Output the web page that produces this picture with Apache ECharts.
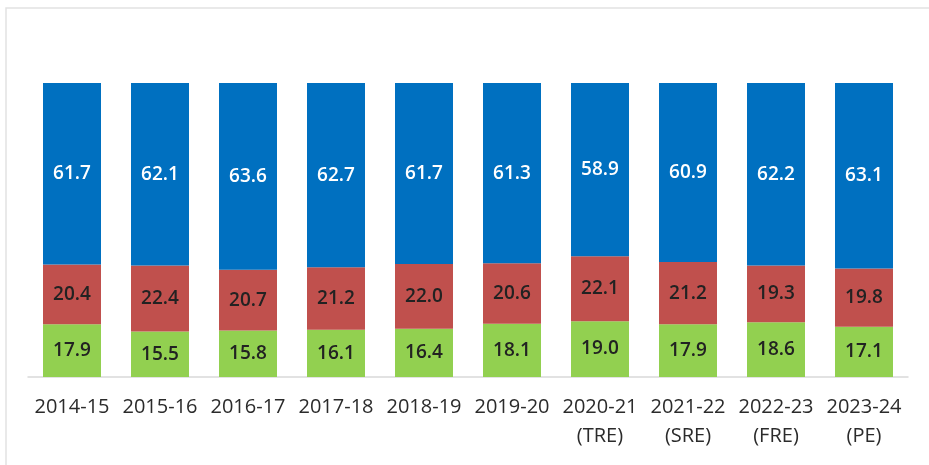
<!DOCTYPE html>
<html>
<head>
<meta charset="utf-8">
<script src="https://cdn.jsdelivr.net/npm/echarts@6/dist/echarts.min.js"></script>
<style>
  html, body { margin: 0; padding: 0; background: #fff; }
  #chart { width: 929px; height: 465px; }
</style>
</head>
<body>
<div id="chart"></div>
<script>
const years = ['2014-15', '2015-16', '2016-17', '2017-18', '2018-19', '2019-20',
  '2020-21\n(TRE)', '2021-22\n(SRE)', '2022-23\n(FRE)', '2023-24\n(PE)'];
const greenVals = [17.9, 15.5, 15.8, 16.1, 16.4, 18.1, 19.0, 17.9, 18.6, 17.1];
const redVals = [20.4, 22.4, 20.7, 21.2, 22.0, 20.6, 22.1, 21.2, 19.3, 19.8];
const blueVals = [61.7, 62.1, 63.6, 62.7, 61.7, 61.3, 58.9, 60.9, 62.2, 63.1];

const chart = echarts.init(document.getElementById('chart'));

const fontFam = '"Open Sans", "Noto Sans", sans-serif';

function makeSeries(name, data, color, labelColor) {
  return {
    name: name,
    type: 'bar',
    stack: 'total',
    barWidth: 58,
    data: data,
    itemStyle: { color: color },
    label: {
      show: true,
      position: 'inside',
      color: labelColor,
      fontWeight: 600,
      fontSize: 19,
      fontFamily: fontFam,
      formatter: p => p.value.toFixed(1)
    }
  };
}

chart.setOption({
  animation: false,
  graphic: [{
    type: 'rect',
    shape: { x: 6, y: 8, width: 960, height: 500 },
    style: { fill: 'none', stroke: '#e2e2e2', lineWidth: 1.5 },
    silent: true
  }],
  grid: { left: 28, top: 83, width: 880, height: 294 },
  xAxis: {
    type: 'category',
    data: years,
    axisLine: { lineStyle: { color: '#d9d9d9', width: 1.5 } },
    axisTick: { show: false },
    axisLabel: {
      color: '#2b2b2b',
      fontSize: 20,
      fontFamily: fontFam,
      margin: 16,
      lineHeight: 29,
      interval: 0
    }
  },
  yAxis: {
    type: 'value',
    min: 0,
    max: 100,
    show: false,
    splitLine: { show: false }
  },
  series: [
    makeSeries('Green', greenVals, '#92D050', '#222'),
    makeSeries('Red', redVals, '#C0504D', '#222'),
    makeSeries('Blue', blueVals, '#0070C0', '#fff')
  ]
});
</script>
</body>
</html>
